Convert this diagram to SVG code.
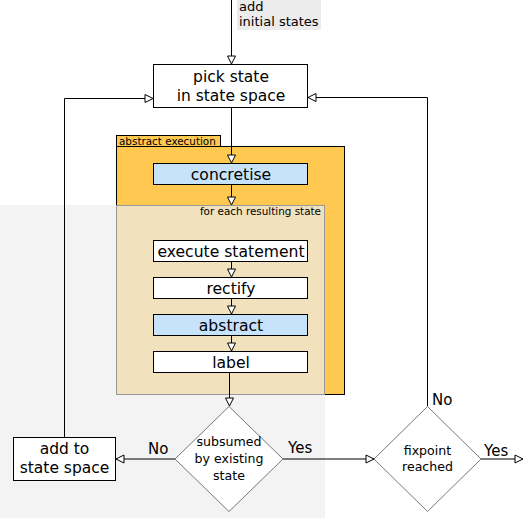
<svg xmlns="http://www.w3.org/2000/svg" width="525" height="518" viewBox="0 0 525 518">
<defs>
<marker id="ah" markerWidth="10" markerHeight="10" refX="9" refY="5" orient="auto" markerUnits="userSpaceOnUse">
<path d="M1,1 L9,5 L1,9 Z" fill="#fff" stroke="#000" stroke-width="1"/>
</marker>
</defs>
<style>
text{font-family:"DejaVu Sans","Liberation Sans",sans-serif;fill:#000}
.box{fill:#fff;stroke:#000;stroke-width:1}
.blue{fill:#c6e3fb;stroke:#000;stroke-width:1}
.t15{font-size:15.5px;text-anchor:middle}
.t14{font-size:15.6px;text-anchor:middle}
.t12{font-size:12.6px;text-anchor:middle}
.lbl{font-size:15px}
.c{fill:none;stroke:#000;stroke-width:1}
</style>
<rect x="0" y="205" width="325" height="313" fill="#f3f3f3"/>
<rect x="237" y="0" width="84" height="30" fill="#ececec"/>
<text x="239" y="11" font-size="13">add</text>
<text x="239" y="26" font-size="13">initial states</text>
<g id="abstract-execution">
<rect x="116.5" y="146.5" width="228" height="248" fill="#ffc850" stroke="#000" stroke-width="1"/>
<rect x="116.5" y="135.5" width="104" height="11" fill="#ffc850" stroke="#000" stroke-width="1"/>
<text x="119" y="144.5" font-size="10.4">abstract execution</text>
</g>
<g id="for-each">
<rect x="116.5" y="205.5" width="208" height="189" fill="#f2e1bd" stroke="#999" stroke-width="1"/>
<text x="321" y="215" font-size="10.4" text-anchor="end">for each resulting state</text>
</g>
<g id="pick"><rect class="box" x="153.5" y="64.5" width="154" height="43"/><text class="t15" x="231" y="82">pick state</text><text class="t15" x="231" y="101">in state space</text></g>
<g id="concretise"><rect class="blue" x="153.5" y="163.5" width="154" height="21"/><text class="t14" x="231" y="179.5">concretise</text></g>
<g id="execute"><rect class="box" x="153.5" y="240.5" width="154" height="21"/><text class="t14" x="231" y="256.5">execute statement</text></g>
<g id="rectify"><rect class="box" x="153.5" y="277.5" width="154" height="21"/><text class="t14" x="231" y="293.5">rectify</text></g>
<g id="abstract"><rect class="blue" x="153.5" y="314.5" width="154" height="21"/><text class="t14" x="231" y="330.5">abstract</text></g>
<g id="label"><rect class="box" x="153.5" y="351.5" width="154" height="21"/><text class="t14" x="231" y="367.5">label</text></g>
<g id="subsumed"><path d="M229,406.5 L283,459 L229,511.5 L175,459 Z" fill="#fff" stroke="#555" stroke-width="0.8"/><text class="t12" x="229" y="446">subsumed</text><text class="t12" x="229" y="463">by existing</text><text class="t12" x="229" y="480">state</text></g>
<g id="fixpoint"><path d="M427.5,406.5 L481,459 L427.5,511.5 L374,459 Z" fill="#fff" stroke="#555" stroke-width="0.8"/><text class="t12" x="427.5" y="455">fixpoint</text><text class="t12" x="427.5" y="471">reached</text></g>
<g id="add"><rect class="box" x="13.5" y="437.5" width="102" height="43"/><text class="t15" x="64.5" y="454">add to</text><text class="t15" x="64.5" y="473">state space</text></g>
<g id="connectors">
<path class="c" d="M231.5,0 L231.5,64" marker-end="url(#ah)"/>
<path class="c" d="M231.5,108 L231.5,163" marker-end="url(#ah)"/>
<path class="c" d="M231.5,185 L231.5,205" marker-end="url(#ah)"/>
<path class="c" d="M231.5,262 L231.5,277" marker-end="url(#ah)"/>
<path class="c" d="M231.5,299 L231.5,314" marker-end="url(#ah)"/>
<path class="c" d="M231.5,336 L231.5,351" marker-end="url(#ah)"/>
<path class="c" d="M229.5,373 L229.5,406" marker-end="url(#ah)"/>
<path class="c" d="M175,459 L116,459" marker-end="url(#ah)"/>
<path class="c" d="M64.5,437 L64.5,98.5 L153,98.5" marker-end="url(#ah)"/>
<path class="c" d="M283,459 L374,459" marker-end="url(#ah)"/>
<path class="c" d="M427.5,406 L427.5,97.5 L308,97.5" marker-end="url(#ah)"/>
<path class="c" d="M481,459 L523,459" marker-end="url(#ah)"/>
<text class="lbl" x="148" y="454">No</text>
<text class="lbl" x="288" y="453">Yes</text>
<text class="lbl" x="432" y="405">No</text>
<text class="lbl" x="484" y="456">Yes</text>
</g>
</svg>
